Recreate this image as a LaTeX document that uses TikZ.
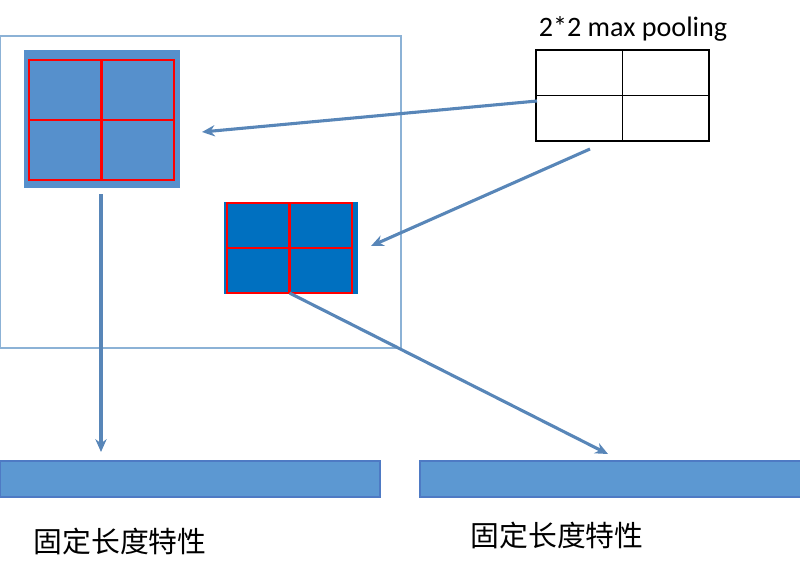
\documentclass[tikz,border=0pt]{standalone}
\usepackage{fontspec}
\setmainfont{Carlito}
\newfontfamily\cjk{Noto Sans CJK SC}
\usetikzlibrary{arrows.meta}
\definecolor{mapA}{RGB}{86,144,204}
\definecolor{mapB}{RGB}{0,112,192}
\definecolor{barfill}{RGB}{92,152,210}
\definecolor{barline}{RGB}{78,122,196}
\definecolor{flow}{RGB}{88,134,184}
\definecolor{frame}{RGB}{140,178,214}

\begin{document}
\begin{tikzpicture}[
  x=0.025cm, y=-0.025cm, >=Stealth,
  box/.style={rectangle, inner sep=0pt, outer sep=0pt},
  fmap/.style={box, draw=none},
  redgrid/.style={box, draw=red, line width=1.5pt},
  redline/.style={draw=red, line width=1.5pt},
  poolgrid/.style={box, draw=black, line width=1pt},
  featbar/.style={box, fill=barfill, draw=barline, line width=0.8pt,
                  minimum width=9.5cm, minimum height=0.9cm},
  flowarrow/.style={draw=flow, line width=2.2pt,
                    arrows={-Stealth[length=3.2mm,width=2.8mm]}},
  caption/.style={font=\cjk\fontsize{20.5}{24}\selectfont},
]
\useasboundingbox (0,0) rectangle (800,573);

\node[box, draw=frame, line width=0.8pt, minimum width=10.025cm,
      minimum height=7.8cm] (img) at (200.5,192) {};

% first feature map
\node[fmap, fill=mapA, minimum width=3.9cm, minimum height=3.45cm]
  (mapa) at (102,119) {};
\node[redgrid, minimum width=3.625cm, minimum height=3cm]
  (grida) at (101.5,120) {};
\draw[redline] (grida.north) -- (grida.south);
\draw[redline] (grida.west) -- (grida.east);

% second feature map
\node[fmap, fill=mapB, minimum width=3.35cm, minimum height=2.3cm]
  (mapb) at (291,248) {};
\node[redgrid, minimum width=3.125cm, minimum height=2.25cm]
  (gridb) at (289.5,248) {};
\draw[redline] (gridb.north) -- (gridb.south);
\draw[redline] (gridb.west) -- (gridb.east);

% pooling window
\node[poolgrid, minimum width=4.325cm, minimum height=2.275cm]
  (pool) at (622.5,95.5) {};
\draw[black, line width=1pt] (pool.north) -- (pool.south);
\draw[black, line width=1pt] (pool.west) -- (pool.east);
\node[font=\fontsize{20}{24}\selectfont, anchor=base] (title) at (633,36)
  {2*2 max pooling};

\node[featbar] (barl) at (190,479) {};
\node[featbar] (barr) at (610,479) {};
\node[caption] (capl) at (120,541) {固定长度特性};
\node[caption] (capr) at (557,535) {固定长度特性};

\coordinate (p1) at (537,101);
\coordinate (t1) at (202,132);
\coordinate (p2) at (590,149);
\coordinate (t2) at (371,246);
\coordinate (s3) at (101,194);
\coordinate (t3) at (101,452);
\coordinate (t4) at (608,454);

\draw[flowarrow] (p1) -- (t1);
\draw[flowarrow] (p2) -- (t2);
\draw[flowarrow] (s3) -- (t3);
\draw[flowarrow] (gridb.south) -- (t4);
\end{tikzpicture}
\end{document}
